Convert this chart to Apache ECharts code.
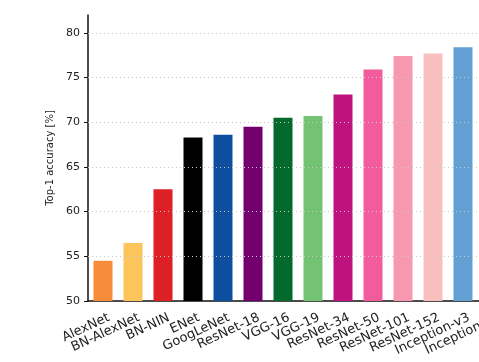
<!DOCTYPE html>
<html>
<head>
<meta charset="utf-8">
<script src="https://cdn.jsdelivr.net/npm/echarts@6/dist/echarts.min.js"></script>
<style>html,body{margin:0;padding:0;background:#fff;overflow:hidden;width:479px;height:362px;}#c{width:560px;height:362px;}</style>
</head>
<body>
<div id="c"></div>
<script>
const categories = ['AlexNet','BN-AlexNet','BN-NIN','ENet','GoogLeNet','ResNet-18','VGG-16','VGG-19','ResNet-34','ResNet-50','ResNet-101','ResNet-152','Inception-v3','Inception-v4'];
const accuracy = [54.5, 56.5, 62.5, 68.3, 68.6, 69.5, 70.5, 70.7, 73.1, 75.9, 77.4, 77.7, 78.4, 80.2];
const yTicks = [50, 55, 60, 65, 70, 75, 80];
const barColors = ['#f68b3a','#fbc55c','#dd1f26','#000000','#0d4f9e','#74006f','#04692d','#74c274','#c0127f','#f25c9d','#f598b0','#f9bfbf','#62a0d4','#2f7fc0'];

const chart = echarts.init(document.getElementById('c'), null, {renderer: 'canvas'});
const font = 'DejaVu Sans';
const cats = categories.concat(['']);
chart.setOption({
  animation: false,
  backgroundColor: '#ffffff',
  grid: [
    {left: 88, top: 15, height: 286, width: 450, containLabel: false},
    {left: 94, top: 15, height: 286, width: 450, containLabel: false}
  ],
  xAxis: [
    {
      type: 'category', gridIndex: 0, data: cats,
      axisLine: {show: true, lineStyle: {color: '#111', width: 1.5}},
      axisTick: {show: false},
      axisLabel: {show: false},
      splitLine: {show: false}
    },
    {
      type: 'category', gridIndex: 1, data: cats,
      axisLine: {show: false},
      axisTick: {show: false},
      splitLine: {show: false},
      axisLabel: {show: true, interval: 0, rotate: 25, margin: 16, fontFamily: font, fontSize: 13, color: '#222'}
    }
  ],
  yAxis: [
    {
      type: 'value', gridIndex: 0, min: 50, max: 82, interval: 1,
      name: 'Top-1 accuracy [%]', nameLocation: 'middle', nameGap: 24,
      nameTextStyle: {fontFamily: font, fontSize: 10, color: '#222'},
      axisLine: {show: true, lineStyle: {color: '#111', width: 1.5}},
      axisTick: {show: true, length: 4, customValues: yTicks, lineStyle: {color: '#111'}},
      axisLabel: {show: true, margin: 8, customValues: yTicks, fontFamily: font, fontSize: 11, color: '#222'},
      splitLine: {show: false}
    },
    {type: 'value', gridIndex: 1, min: 50, max: 82, show: false}
  ],
  series: [{
    type: 'bar', xAxisIndex: 0, yAxisIndex: 0,
    data: accuracy,
    barWidth: 19,
    itemStyle: {color: p => barColors[p.dataIndex]},
    markLine: {
      silent: true, symbol: 'none', label: {show: false},
      lineStyle: {type: [1, 3], color: '#c8c8c8', width: 1},
      data: yTicks.slice(1).map(v => ({yAxis: v}))
    },
    z: 3
  }]
});
</script>
</body>
</html>
